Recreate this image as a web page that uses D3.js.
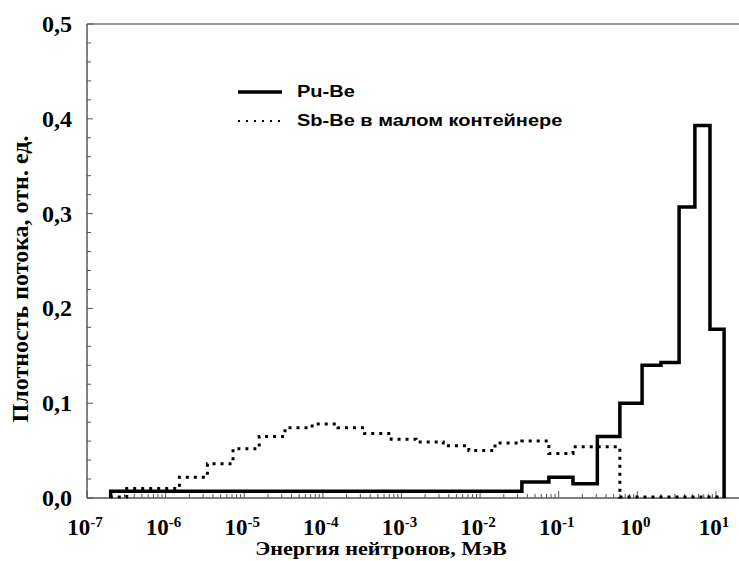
<!DOCTYPE html>
<meta charset="utf-8">
<script src="https://d3js.org/d3.v7.min.js"></script>
<style>
  body { margin: 0; background: #fff; }
</style>
<div id="chart"></div>
<script>
// energy bin edges (MeV) and flux densities
const puBeEdges = [2e-7, 0.034, 0.075, 0.152, 0.31, 0.6, 1.15, 2.0, 3.4, 5.4, 8.4, 12.7];
const puBeValues = [0.007, 0.017, 0.022, 0.015, 0.065, 0.100, 0.140, 0.143, 0.307, 0.393, 0.178];

const sbBeEdges = [2e-7, 3.2e-7, 1.5e-6, 3.4e-6, 7.2e-6, 1.55e-5, 3.3e-5, 7.3e-5, 1.56e-4, 3.4e-4,
  7.4e-4, 1.53e-3, 3.4e-3, 7.2e-3, 1.55e-2, 0.034, 0.075, 0.152, 0.6, 12.7];
const sbBeValues = [0.001, 0.010, 0.022, 0.036, 0.052, 0.065, 0.074, 0.078, 0.074, 0.068,
  0.062, 0.059, 0.055, 0.050, 0.058, 0.060, 0.047, 0.054, 0.001];

const yTicks = [0, 0.1, 0.2, 0.3, 0.4, 0.5];
const yTickLabels = ["0,0", "0,1", "0,2", "0,3", "0,4", "0,5"];
const xExponents = [-7, -6, -5, -4, -3, -2, -1, 0, 1];

const W = 739, H = 561;
const svg = d3.select("#chart").append("svg")
  .attr("width", W).attr("height", H)
  .style("font-family", "'Liberation Serif', 'DejaVu Serif', serif");

const x = d3.scaleLog().domain([1e-7, 20]).range([87, 739.6]);
const y = d3.scaleLinear().domain([0, 0.5]).range([498, 24]);

// frame: left, bottom, top
const axisColor = "#555";
svg.append("line").attr("x1", x.range()[0]).attr("x2", 739).attr("y1", y(0.5)).attr("y2", y(0.5))
  .attr("stroke", "#777").attr("stroke-width", 1.5);
svg.append("line").attr("x1", x.range()[0]).attr("x2", x.range()[0]).attr("y1", y(0.5)).attr("y2", y(0))
  .attr("stroke", axisColor).attr("stroke-width", 1.5);
svg.append("line").attr("x1", x.range()[0]).attr("x2", 739).attr("y1", y(0)).attr("y2", y(0))
  .attr("stroke", axisColor).attr("stroke-width", 1.5);

// y ticks (inside)
const yMinor = d3.range(0, 0.5001, 0.02);
svg.append("g").selectAll("line").data(yMinor).join("line")
  .attr("x1", x.range()[0]).attr("x2", d => x.range()[0] + (Math.abs(d * 10 - Math.round(d * 10)) < 1e-6 ? 6 : 4))
  .attr("y1", d => y(d)).attr("y2", d => y(d))
  .attr("stroke", axisColor).attr("stroke-width", 1);

svg.append("g").selectAll("text").data(yTicks).join("text")
  .attr("x", 72).attr("y", d => y(d) + 8)
  .attr("text-anchor", "end")
  .attr("font-size", 24).attr("font-weight", "bold")
  .text((d, i) => yTickLabels[i]);

// x ticks (inside)
const xMinor = [];
xExponents.forEach(e => {
  for (let m = 1; m <= 9; m++) {
    const v = m * Math.pow(10, e);
    if (v <= 20) xMinor.push({ v, major: m === 1 });
  }
});
svg.append("g").selectAll("line").data(xMinor).join("line")
  .attr("x1", d => x(d.v)).attr("x2", d => x(d.v))
  .attr("y1", y(0)).attr("y2", d => y(0) - (d.major ? 7 : 4))
  .attr("stroke", axisColor).attr("stroke-width", 1);

const xl = svg.append("g").selectAll("text").data(xExponents).join("text")
  .attr("x", d => x(Math.pow(10, d)) - 2).attr("y", 535)
  .attr("text-anchor", "middle")
  .attr("font-size", 23).attr("font-weight", "bold");
xl.append("tspan").text("10");
xl.append("tspan").attr("dy", -8).attr("font-size", 15).text(d => d);

// axis titles
svg.append("text")
  .attr("transform", "translate(381,555) scale(1.23,1)")
  .attr("text-anchor", "middle")
  .attr("font-size", 18).attr("font-weight", "bold")
  .text("Энергия нейтронов, МэВ");

svg.append("text")
  .attr("transform", "translate(28,279) rotate(-90)")
  .attr("text-anchor", "middle")
  .attr("font-size", 24).attr("font-weight", "bold")
  .text("Плотность потока, отн. ед.");

// histogram as step line
function steps(edges, values) {
  const pts = [[edges[0], 0]];
  values.forEach((v, i) => { pts.push([edges[i], v]); pts.push([edges[i + 1], v]); });
  pts.push([edges[edges.length - 1], 0]);
  return pts;
}
const line = d3.line().x(d => x(d[0])).y(d => y(d[1]));

svg.append("path")
  .attr("d", line(steps(sbBeEdges, sbBeValues)))
  .attr("fill", "none").attr("stroke", "#000")
  .attr("stroke-width", 3).attr("stroke-dasharray", "3,5");

svg.append("path")
  .attr("d", line(steps(puBeEdges, puBeValues)))
  .attr("fill", "none").attr("stroke", "#000")
  .attr("stroke-width", 3.5).attr("stroke-linejoin", "miter");

// legend
const legend = svg.append("g").style("font-family", "'Liberation Sans', Arial, sans-serif");
legend.append("line").attr("x1", 238).attr("x2", 282).attr("y1", 92).attr("y2", 92)
  .attr("stroke", "#000").attr("stroke-width", 3.5);
legend.append("text").attr("transform", "translate(297,97) scale(1.25,1)")
  .attr("font-size", 16).attr("font-weight", "bold").text("Pu-Be");
legend.append("line").attr("x1", 238).attr("x2", 282).attr("y1", 121).attr("y2", 121)
  .attr("stroke", "#000").attr("stroke-width", 2).attr("stroke-dasharray", "2,6");
legend.append("text").attr("transform", "translate(297,126) scale(1.25,1)")
  .attr("font-size", 16).attr("font-weight", "bold").text("Sb-Be в малом контейнере");
</script>
